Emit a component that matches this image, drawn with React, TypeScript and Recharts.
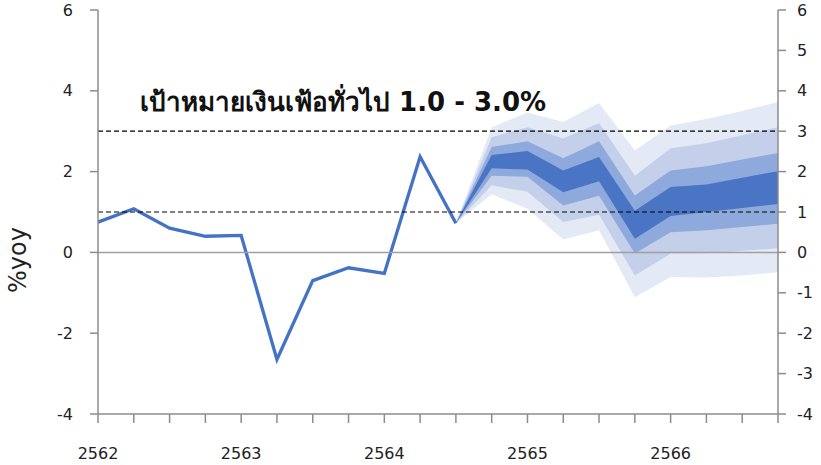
import React from 'react';
import {
  ComposedChart,
  Line,
  Area,
  XAxis,
  YAxis,
  ReferenceLine,
} from 'recharts';

// quarters 2562 Q1 .. 2566 Q4
const years = ['2562', '2563', '2564', '2565', '2566'];
const quarters = ['Q1', 'Q2', 'Q3', 'Q4'];

// actual headline inflation, %yoy (2562Q1 .. 2564Q3)
const actual = [0.75, 1.08, 0.6, 0.4, 0.42, -2.65, -0.7, -0.38, -0.52, 2.37, 0.72];

// fan chart bands, from 2564Q3 (start of fan) to 2566Q4
const fanStart = 10;
const outerLo = [0.72, 1.44, 1.08, 0.32, 0.55, -1.11, -0.61, -0.62, -0.57, -0.49];
const outerHi = [0.72, 3.1, 3.46, 3.23, 3.7, 2.52, 3.14, 3.3, 3.5, 3.72];
const midLo = [0.72, 1.66, 1.5, 0.75, 0.93, -0.57, -0.03, -0.02, 0.04, 0.1];
const midHi = [0.72, 2.85, 3.1, 2.82, 3.2, 1.9, 2.58, 2.7, 2.9, 3.1];
const innerLo = [0.72, 1.9, 1.87, 1.16, 1.4, -0.03, 0.5, 0.55, 0.63, 0.71];
const innerHi = [0.72, 2.61, 2.75, 2.33, 2.75, 1.41, 2.03, 2.13, 2.3, 2.46];
const coreLo = [0.72, 2.08, 2.05, 1.49, 1.76, 0.34, 0.9, 1.0, 1.1, 1.2];
const coreHi = [0.72, 2.41, 2.51, 2.03, 2.36, 1.03, 1.62, 1.68, 1.85, 2.01];

const leftTicks = [-4, -2, 0, 2, 4, 6];
const rightTicks = [-4, -3, -2, -1, 0, 1, 2, 3, 4, 5, 6];
const targetLow = 1;
const targetHigh = 3;

const band = (lo: number[], hi: number[], i: number) => {
  const k = i - fanStart;
  return k >= 0 && k < lo.length ? [lo[k], hi[k]] : null;
};

const data = years.flatMap((y) => quarters.map((q) => `${q}/${y}`)).map((key, i) => ({
  key,
  actual: i < actual.length ? actual[i] : null,
  outer: band(outerLo, outerHi, i),
  mid: band(midLo, midHi, i),
  inner: band(innerLo, innerHi, i),
  core: band(coreLo, coreHi, i),
}));

const FONT = '"DejaVu Sans", "Noto Sans", sans-serif';
const AXIS = '#8c8c8c';
const tickStyle = { fill: '#222', fontSize: 16, fontFamily: FONT };

export default function App() {
  return (
    <div style={{ position: 'absolute', left: 0, top: 0, width: 821, height: 465, background: '#fff' }}>
      <ComposedChart
        width={821}
        height={465}
        data={data}
        margin={{ top: 10, right: 0, bottom: 0, left: 0 }}
      >
        <XAxis
          dataKey="key"
          interval={0}
          height={51}
          tickFormatter={(v: string) => (v.startsWith('Q1/') ? v.slice(3) : '')}
          tick={tickStyle}
          tickSize={9}
          tickMargin={25}
          stroke={AXIS}
          strokeWidth={1.5}
        />
        <YAxis
          yAxisId="left"
          width={98}
          domain={[-4, 6]}
          ticks={leftTicks}
          tick={tickStyle}
          tickSize={8}
          tickMargin={17}
          stroke={AXIS}
          strokeWidth={1.5}
        />
        <YAxis
          yAxisId="right"
          orientation="right"
          width={43}
          domain={[-4, 6]}
          ticks={rightTicks}
          tick={tickStyle}
          tickSize={8}
          tickMargin={11}
          stroke={AXIS}
          strokeWidth={1.5}
        />
        <Area yAxisId="left" dataKey="outer" type="linear" fill="#e3e9f5" fillOpacity={1} stroke="none" isAnimationActive={false} />
        <Area yAxisId="left" dataKey="mid" type="linear" fill="#c4d0ea" fillOpacity={1} stroke="none" isAnimationActive={false} />
        <Area yAxisId="left" dataKey="inner" type="linear" fill="#8ea9dc" fillOpacity={1} stroke="none" isAnimationActive={false} />
        <Area yAxisId="left" dataKey="core" type="linear" fill="#4a74c4" fillOpacity={1} stroke="none" isAnimationActive={false} />
        <Line
          yAxisId="left"
          dataKey="actual"
          type="linear"
          stroke="#4472c4"
          strokeWidth={3.3}
          dot={false}
          activeDot={false}
          isAnimationActive={false}
        />
        {/* invisible series so the right-hand axis gets drawn */}
        <Line
          yAxisId="right"
          dataKey="actual"
          stroke="none"
          dot={false}
          activeDot={false}
          isAnimationActive={false}
        />
        <ReferenceLine yAxisId="left" y={0} stroke="#a0a0a0" strokeWidth={1.5} />
        <ReferenceLine yAxisId="left" y={targetHigh} stroke="#000" strokeWidth={1.2} strokeDasharray="5 3" />
        <ReferenceLine yAxisId="left" y={targetLow} stroke="#000" strokeWidth={1.2} strokeDasharray="5 3" />
      </ComposedChart>
      <div
        style={{
          position: 'absolute',
          left: 140,
          top: 81,
          fontFamily: FONT,
          fontSize: 26,
          fontWeight: 'bold',
          color: '#111',
          whiteSpace: 'nowrap',
        }}
      >
        เป้าหมายเงินเฟ้อทั่วไป 1.0 - 3.0%
      </div>
      <div
        style={{
          position: 'absolute',
          left: 18,
          top: 260,
          transform: 'translate(-50%, -50%) rotate(-90deg)',
          fontFamily: FONT,
          fontSize: 24,
          color: '#222',
          whiteSpace: 'nowrap',
        }}
      >
        %yoy
      </div>
    </div>
  );
}
